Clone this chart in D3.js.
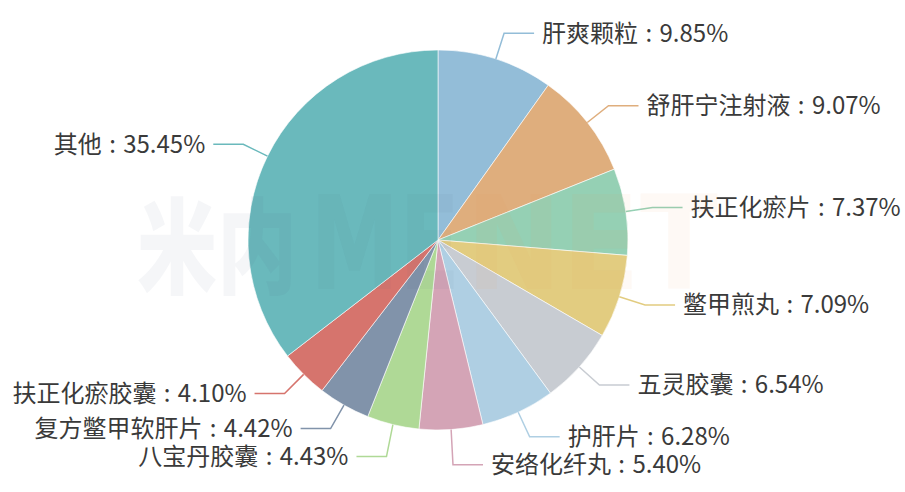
<!DOCTYPE html>
<html>
<head>
<meta charset="utf-8">
<script src="https://cdn.jsdelivr.net/npm/d3@7"></script>
<style>
  html, body { margin: 0; padding: 0; background: #fff; }
  svg { display: block; }
</style>
</head>
<body>
<svg id="chart" width="905" height="492"></svg>
<script>
// data, clockwise from 12 o'clock
var names = ["肝爽颗粒", "舒肝宁注射液", "扶正化瘀片", "鳖甲煎丸", "五灵胶囊", "护肝片",
             "安络化纤丸", "八宝丹胶囊", "复方鳖甲软肝片", "扶正化瘀胶囊", "其他"];
var shares = [9.85, 9.07, 7.37, 7.09, 6.54, 6.28, 5.40, 4.43, 4.42, 4.10, 35.45];
var colors = ["#93bdd8", "#dfae7d", "#95d0b4", "#e2cc80", "#c8ccd2", "#afcfe3",
              "#d4a4b6", "#afd996", "#8193aa", "#d6746d", "#6ab9bc"];

var width = 905, height = 492;
var cx = 438, cy = 240, radius = 190;
var len1 = 27, len2 = 30, gap = 8, minGap = 28;

var svg = d3.select("#chart");
var g = svg.append("g").attr("transform", "translate(" + cx + "," + cy + ")");

var pie = d3.pie().sort(null).value(function(d) { return d; });
var arcs = pie(shares);
var arc = d3.arc().innerRadius(0).outerRadius(radius);

g.selectAll("path.slice")
  .data(arcs)
  .enter().append("path")
  .attr("class", "slice")
  .attr("d", arc)
  .attr("fill", function(d, i) { return colors[i]; })
  .attr("stroke", "#fff")
  .attr("stroke-width", 0.6);

// watermark (sits over the pie, very faint)
var wm = svg.append("g").attr("pointer-events", "none");
wm.append("text")
  .attr("x", 137).attr("y", 286)
  .attr("font-family", "'Noto Sans CJK SC', sans-serif")
  .attr("font-weight", 900)
  .attr("font-size", 104)
  .attr("textLength", 160).attr("lengthAdjust", "spacingAndGlyphs")
  .attr("fill", "rgb(70,100,120)").attr("fill-opacity", 0.055)
  .text("米内");
wm.append("text")
  .attr("x", 310).attr("y", 289)
  .attr("font-family", "'DejaVu Sans', sans-serif")
  .attr("font-weight", "bold")
  .attr("font-size", 130)
  .attr("textLength", 150).attr("lengthAdjust", "spacingAndGlyphs")
  .attr("fill", "rgb(70,100,120)").attr("fill-opacity", 0.045)
  .text("ME");
wm.append("text")
  .attr("x", 466).attr("y", 289)
  .attr("font-family", "'DejaVu Sans', sans-serif")
  .attr("font-weight", "bold")
  .attr("font-size", 130)
  .attr("textLength", 252).attr("lengthAdjust", "spacingAndGlyphs")
  .attr("fill", "rgb(235,150,90)").attr("fill-opacity", 0.06)
  .text("NET");

// label layout
var labels = arcs.map(function(d, i) {
  var a = (d.startAngle + d.endAngle) / 2;
  var s = Math.sin(a), c = -Math.cos(a);
  return {
    i: i,
    right: s >= 0,
    x1: radius * s, y1: radius * c,
    x2: (radius + len1) * s, y2: (radius + len1) * c
  };
});

[true, false].forEach(function(side) {
  var list = labels.filter(function(l) { return l.right === side; })
    .sort(function(a, b) { return a.y2 - b.y2; });
  for (var k = 1; k < list.length; k++) {
    if (list[k].y2 < list[k - 1].y2 + minGap) list[k].y2 = list[k - 1].y2 + minGap;
  }
});

labels.forEach(function(l) {
  var dir = l.right ? 1 : -1;
  var x3 = l.x2 + dir * len2;
  g.append("polyline")
    .attr("points", [[l.x1, l.y1], [l.x2, l.y2], [x3, l.y2]].join(" "))
    .attr("fill", "none")
    .attr("stroke", colors[l.i])
    .attr("stroke-width", 1.5);
  g.append("text")
    .attr("x", x3 + dir * gap)
    .attr("y", l.y2)
    .attr("dy", "0.35em")
    .attr("text-anchor", l.right ? "start" : "end")
    .attr("font-family", "'Noto Sans CJK SC', 'Noto Sans', sans-serif")
    .attr("font-size", 24)
    .attr("word-spacing", 2)
    .attr("fill", "#3a3a3a")
    .text(names[l.i] + " : " + shares[l.i].toFixed(2) + "%");
});
</script>
</body>
</html>
